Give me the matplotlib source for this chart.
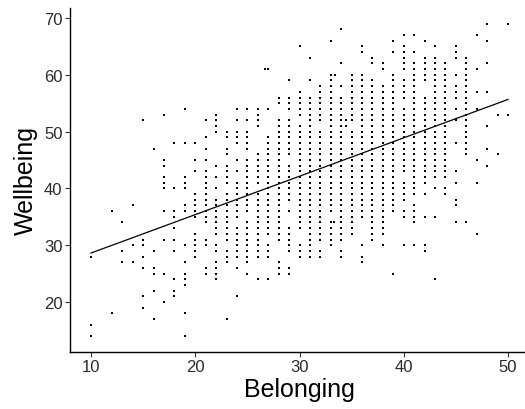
import numpy as np
import matplotlib
matplotlib.use("Agg")
import matplotlib.pyplot as plt

# Wellbeing values observed at each Belonging score
wb_10 = [28, 16, 14]
wb_12 = [36, 18]
wb_13 = [34, 29, 27]
wb_14 = [37, 30, 27]
wb_15 = [52, 31, 30, 28, 26, 21, 19]
wb_16 = [47, 29, 26, 25, 22, 17]
wb_17 = [53, 45, 44, 42, 41, 40, 36, 31, 25, 20]
wb_18 = [48, 40, 36, 35, 33, 31, 29, 24, 22, 21]
wb_19 = [54, 48, 42, 41, 40, 37, 36, 30, 27, 25, 24, 23, 18, 14]
wb_20 = [48, 45, 43, 39, 38, 37, 36, 35, 32, 31, 30, 29, 28]
wb_21 = [52, 49, 47, 45, 43, 42, 41, 40, 39, 38, 37, 36, 35, 34, 31, 30, 26, 25]
wb_22 = [53, 52, 51, 50, 44, 42, 40, 38, 37, 36, 35, 34, 33, 32, 30, 29, 27, 26, 25, 24]
wb_23 = [50, 49, 47, 46, 44, 43, 42, 41, 39, 38, 37, 36, 35, 34, 33, 32, 31, 29, 28, 27, 17]
wb_24 = [54, 52, 50, 49, 48, 45, 43, 41, 40, 39, 38, 37, 36, 35, 33, 32, 31, 30, 29, 28, 26, 21]
wb_25 = [54, 52, 50, 49, 48, 47, 45, 44, 43, 42, 41, 40, 39, 38, 37, 36, 34, 33, 32, 31, 30, 29, 28, 27, 25]
wb_26 = [54, 53, 52, 51, 46, 45, 44, 43, 42, 41, 39, 38, 37, 36, 35, 34, 33, 32, 31, 30, 29, 28, 24]
wb_27 = [61, 54, 49, 48, 47, 46, 45, 44, 43, 42, 41, 40, 39, 38, 37, 36, 35, 34, 33, 32, 30, 29, 28, 24]
wb_28 = [56, 55, 52, 51, 50, 49, 48, 47, 46, 45, 44, 43, 42, 41, 40, 39, 38, 37, 36, 35, 34, 33, 32, 31, 27, 26, 25]
wb_29 = [59, 56, 55, 54, 52, 51, 50, 49, 48, 47, 46, 44, 43, 42, 41, 40, 39, 38, 36, 33, 32, 31, 30, 29, 26, 25]
wb_30 = [65, 57, 56, 55, 54, 53, 51, 50, 49, 48, 47, 46, 45, 44, 43, 42, 41, 40, 39, 38, 37, 36, 35, 34, 33, 30, 29, 28]
wb_31 = [63, 59, 56, 55, 54, 53, 52, 51, 50, 49, 48, 47, 46, 45, 44, 43, 42, 41, 40, 39, 38, 37, 36, 35, 34, 33, 32, 31, 30, 29, 28]
wb_32 = [58, 57, 56, 55, 54, 53, 52, 50, 49, 48, 47, 46, 45, 44, 43, 42, 41, 40, 39, 38, 37, 36, 35, 34, 33, 32, 31, 29, 28]
wb_33 = [66, 60, 59, 58, 57, 56, 55, 54, 53, 52, 51, 50, 49, 48, 47, 46, 45, 44, 43, 42, 41, 40, 39, 38, 37, 36, 34, 33, 32, 31, 30]
wb_34 = [68, 62, 58, 56, 55, 54, 53, 52, 51, 50, 49, 48, 47, 46, 45, 44, 43, 42, 41, 40, 39, 38, 37, 36, 35, 34, 33, 32, 31, 29, 28]
wb_35 = [60, 59, 58, 57, 56, 55, 54, 53, 52, 50, 49, 48, 47, 46, 45, 44, 43, 42, 41, 40, 39, 38, 37, 36, 35, 34, 33, 32]
wb_36 = [65, 64, 60, 59, 58, 57, 56, 55, 54, 53, 52, 51, 50, 49, 48, 47, 46, 45, 44, 43, 42, 41, 40, 39, 38, 37, 36, 35, 30, 28, 27]
wb_37 = [63, 62, 59, 58, 57, 56, 55, 54, 53, 52, 51, 50, 49, 48, 47, 46, 45, 44, 43, 42, 41, 40, 39, 38, 37, 36, 35, 34, 33, 32, 31]
wb_38 = [62, 61, 58, 57, 56, 55, 54, 53, 52, 51, 50, 49, 48, 47, 46, 45, 44, 43, 42, 41, 40, 39, 38, 37, 36, 35, 34, 33, 32, 30]
wb_39 = [66, 64, 60, 59, 58, 57, 56, 55, 54, 53, 52, 51, 50, 49, 48, 47, 46, 45, 44, 43, 42, 41, 40, 39, 38, 37, 36, 25]
wb_40 = [67, 65, 64, 63, 62, 61, 59, 58, 57, 56, 54, 53, 52, 51, 50, 49, 48, 47, 46, 45, 44, 43, 41, 40, 39, 38, 36, 35, 30]
wb_41 = [67, 64, 62, 61, 60, 59, 58, 57, 56, 55, 54, 53, 52, 51, 50, 49, 48, 47, 46, 45, 44, 43, 42, 41, 40, 39, 37, 36, 35, 34, 30]
wb_42 = [66, 63, 62, 61, 60, 59, 56, 55, 54, 53, 52, 51, 50, 49, 48, 47, 46, 45, 44, 43, 42, 41, 39, 35, 30, 29]
wb_43 = [65, 63, 62, 61, 60, 59, 58, 57, 56, 55, 54, 53, 52, 51, 50, 49, 48, 47, 46, 45, 44, 43, 42, 40, 35, 24]
wb_44 = [62, 61, 60, 59, 58, 57, 56, 55, 54, 53, 52, 51, 50, 49, 48, 47, 46, 45, 44, 43, 42, 40, 39]
wb_45 = [65, 64, 63, 60, 58, 57, 56, 54, 52, 48, 43, 41, 38, 37, 34]
wb_46 = [63, 62, 61, 60, 59, 58, 57, 56, 55, 54, 53, 52, 51, 50, 49, 48, 47, 46, 34]
wb_47 = [67, 61, 57, 54, 45, 41, 32]
wb_48 = [69, 66, 62, 57, 51, 47, 44]
wb_49 = [53, 46]
wb_50 = [69, 53]

# a few respondents with non-integer Belonging scores
extra_belonging = [26.7, 33.4, 34.5, 34.5, 33.3]
extra_wellbeing = [61, 60, 52, 51, 34]

columns = {
    10: wb_10, 12: wb_12, 13: wb_13, 14: wb_14, 15: wb_15, 16: wb_16,
    17: wb_17, 18: wb_18, 19: wb_19, 20: wb_20, 21: wb_21, 22: wb_22,
    23: wb_23, 24: wb_24, 25: wb_25, 26: wb_26, 27: wb_27, 28: wb_28,
    29: wb_29, 30: wb_30, 31: wb_31, 32: wb_32, 33: wb_33, 34: wb_34,
    35: wb_35, 36: wb_36, 37: wb_37, 38: wb_38, 39: wb_39, 40: wb_40,
    41: wb_41, 42: wb_42, 43: wb_43, 44: wb_44, 45: wb_45, 46: wb_46,
    47: wb_47, 48: wb_48, 49: wb_49, 50: wb_50,
}

belonging = []
wellbeing = []
for b, ys in columns.items():
    belonging += [b] * len(ys)
    wellbeing += ys
belonging = np.array(belonging + extra_belonging, dtype=float)
wellbeing = np.array(wellbeing + extra_wellbeing, dtype=float)

xticks = [10, 20, 30, 40, 50]
yticks = [20, 30, 40, 50, 60, 70]

plt.rcParams['font.family'] = ['Liberation Sans', 'DejaVu Sans']

W, H = 525, 410
fig = plt.figure(figsize=(W / 100, H / 100), dpi=100)
left, right, top, bottom = 70.15, 528.85, 9.06, 352.7
ax = fig.add_axes([left / W, 1 - bottom / H, (right - left) / W, (bottom - top) / H])

ax.scatter(belonging, wellbeing, s=2.4, marker='s', c='black', linewidths=0)

slope, intercept = np.polyfit(belonging, wellbeing, 1)
xl = np.array([belonging.min(), belonging.max()])
ax.plot(xl, intercept + slope * xl, color='black', lw=0.9)

ax.set_xlim(8, 52)
ax.set_ylim(11.25, 71.75)
ax.set_xticks(xticks)
ax.set_yticks(yticks)

for s in ['top', 'right']:
    ax.spines[s].set_visible(False)
for s in ['left', 'bottom']:
    ax.spines[s].set_linewidth(1.0)
    ax.spines[s].set_color('black')

ax.tick_params(axis='both', direction='out', length=3.5, width=0.8, color='#333333',
               labelsize=12, labelcolor='#2b2b2b', pad=2)

ax.set_xlabel('Belonging', fontsize=18, color='black', labelpad=2)
ax.set_ylabel('Wellbeing', fontsize=18, color='black', labelpad=4)

fig.savefig('out.png', dpi=100)
